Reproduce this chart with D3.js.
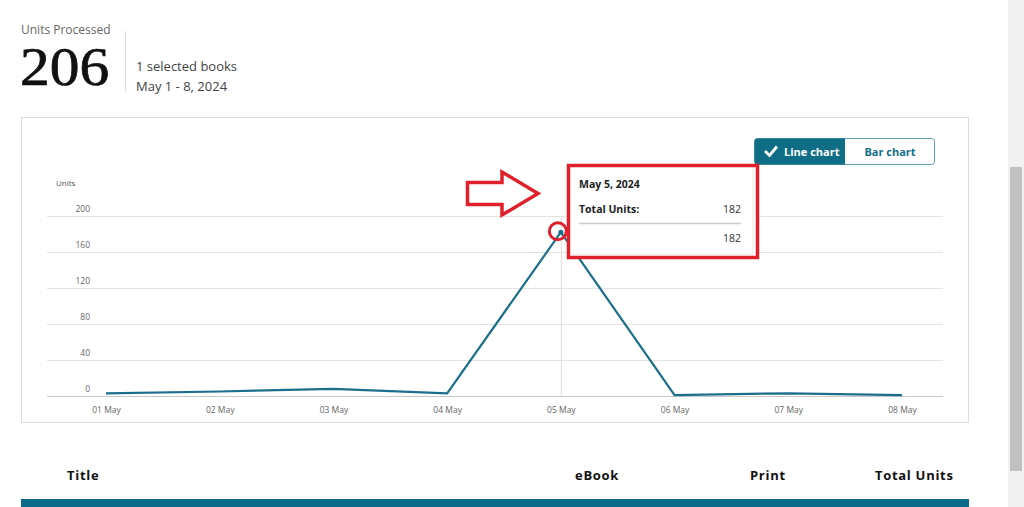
<!DOCTYPE html>
<html><head><meta charset="utf-8">
<script src="https://cdn.jsdelivr.net/npm/d3@7"></script>
<style>
html,body{margin:0;padding:0;background:#fff;overflow:hidden;}
svg{display:block;font-family:"Open Sans","Noto Sans",sans-serif;}
</style></head>
<body>
<svg id="c" width="1024" height="507"></svg>
<script>
const categories = ["01 May","02 May","03 May","04 May","05 May","06 May","07 May","08 May"];
const units = [3, 5, 8, 3, 182, 1, 3, 1];
const yTicks = [0, 40, 80, 120, 160, 200];
const tableHeaders = ["Title","eBook","Print","Total Units"];
const tooltipDate = "May 5, 2024";
const highlightIndex = 4;

const svg = d3.select("#c");
const teal = "#0f6e85";
const lineColor = "#1b6f8c";

// scrollbar
svg.append("rect").attr("x",1008).attr("y",0).attr("width",16).attr("height",507).attr("fill","#f1f1f1");
svg.append("rect").attr("x",1010).attr("y",167).attr("width",12).attr("height",304).attr("fill","#c1c1c1");

// header
svg.append("text").attr("x",21).attr("y",34).attr("font-size",12).attr("fill","#666").text("Units Processed");
const total = d3.sum(units);
svg.append("text").attr("transform","translate(20,85) scale(1.1,1)").attr("font-family","'Liberation Serif','DejaVu Serif',serif")
  .attr("font-size",54).attr("fill","#111").attr("stroke","#111").attr("stroke-width",0.7).text(total);
svg.append("line").attr("x1",125.5).attr("x2",125.5).attr("y1",31).attr("y2",92).attr("stroke","#ddd");
svg.append("text").attr("x",136).attr("y",71).attr("font-size",13).attr("fill","#444").text("1 selected books");
svg.append("text").attr("x",136).attr("y",91).attr("font-size",13).attr("fill","#444").text("May 1 - 8, 2024");

// chart box
svg.append("rect").attr("x",21.5).attr("y",117.5).attr("width",947).attr("height",305).attr("fill","none").attr("stroke","#ddd");

// scales
const x = d3.scalePoint().domain(categories).range([106, 902]);
const y = d3.scaleLinear().domain([0, 200]).range([396, 216]);

// gridlines
svg.append("g").selectAll("line").data(yTicks).join("line")
  .attr("x1",47).attr("x2",943).attr("y1",d=>y(d)+0.5).attr("y2",d=>y(d)+0.5)
  .attr("stroke",d=>d===0?"#c8c8c8":"#e3e3e3").attr("stroke-width",1);
svg.append("g").selectAll("text").data(yTicks).join("text")
  .attr("x",90).attr("y",d=>y(d)-4).attr("text-anchor","end")
  .attr("font-size",8.5).attr("fill","#666").text(d=>d);
svg.append("text").attr("x",56).attr("y",186).attr("font-size",8).attr("fill","#555").text("Units");

// x axis labels
const xAxis = d3.axisBottom(x).tickSize(0).tickPadding(0);
const gx = svg.append("g").attr("transform","translate(0,407)").call(xAxis);
gx.select(".domain").remove();
gx.selectAll("text").attr("font-size",8.5).attr("fill","#666").attr("font-family","'Open Sans','Noto Sans',sans-serif");

// crosshair
svg.append("line").attr("x1",x(categories[highlightIndex])+0.5).attr("x2",x(categories[highlightIndex])+0.5)
  .attr("y1",y(200)).attr("y2",y(0)).attr("stroke","#ddd");

// line
const line = d3.line().x((d,i)=>x(categories[i])).y(d=>y(d));
svg.append("path").datum(units).attr("d",line).attr("fill","none").attr("stroke",lineColor).attr("stroke-width",2.2).attr("stroke-linejoin","miter");

// highlighted dot
const hx = x(categories[highlightIndex]), hy = y(units[highlightIndex]);
svg.append("circle").attr("cx",hx).attr("cy",hy).attr("r",2.5).attr("fill",lineColor);
svg.append("circle").attr("cx",hx-3).attr("cy",hy-1).attr("r",8.5).attr("fill","none").attr("stroke","#e0202a").attr("stroke-width",3);

// toggle buttons
svg.append("rect").attr("x",754.5).attr("y",138.5).attr("width",180).attr("height",26).attr("rx",3).attr("fill","#fff").attr("stroke","#5a9fae");
svg.append("path").attr("d","M757.5,138.5 H845 V164.5 H757.5 Q754.5,164.5 754.5,161.5 V141.5 Q754.5,138.5 757.5,138.5 Z").attr("fill",teal);
svg.append("path").attr("d","M765,151 L769.5,155.5 L777,146.5").attr("fill","none").attr("stroke","#fff").attr("stroke-width",2.8);
svg.append("text").attr("x",784).attr("y",155.5).attr("font-size",11).attr("font-weight","bold").attr("fill","#fff").text("Line chart");
svg.append("text").attr("x",890).attr("y",155.5).attr("text-anchor","middle").attr("font-size",11).attr("font-weight","bold").attr("fill","#0f6e85").text("Bar chart");

// tooltip
svg.append("rect").attr("x",567).attr("y",164).attr("width",192).attr("height",95).attr("fill","#fff");
svg.append("rect").attr("x",569).attr("y",166).attr("width",184).attr("height",88).attr("fill","#fff").attr("stroke","#e6e6e6");
svg.append("text").attr("x",579).attr("y",188).attr("font-size",10.5).attr("font-weight","bold").attr("fill","#222").text(tooltipDate);
svg.append("text").attr("x",579).attr("y",213).attr("font-size",10.5).attr("font-weight","bold").attr("fill","#222").text("Total Units:");
svg.append("text").attr("x",741).attr("y",213).attr("text-anchor","end").attr("font-size",10.5).attr("fill","#333").text(units[highlightIndex]);
svg.append("line").attr("x1",579).attr("x2",741).attr("y1",223.5).attr("y2",223.5).attr("stroke","#ccc").attr("stroke-width",1.5);
svg.append("text").attr("x",741).attr("y",242).attr("text-anchor","end").attr("font-size",10.5).attr("fill","#333").text(units[highlightIndex]);
svg.append("rect").attr("x",568.5).attr("y",165.5).attr("width",189).attr("height",92).attr("fill","none").attr("stroke","#e0202a").attr("stroke-width",3.5);

// red arrow
svg.append("path")
  .attr("d","M467.5,182.5 H502 V172 L538,193.5 L502,215 V204.5 H467.5 Z")
  .attr("fill","#fff").attr("stroke","#e0202a").attr("stroke-width",3.5).attr("stroke-linejoin","miter");

// table header
const colX = [67, 575, 750, 875];
svg.append("g").selectAll("text").data(tableHeaders).join("text")
  .attr("x",(d,i)=>colX[i]).attr("y",480).attr("font-size",13).attr("font-weight","bold")
  .attr("letter-spacing",0.7).attr("fill","#111").text(d=>d);
svg.append("rect").attr("x",21).attr("y",499).attr("width",948).attr("height",8).attr("fill","#0b6a8a");
</script>
</body></html>
